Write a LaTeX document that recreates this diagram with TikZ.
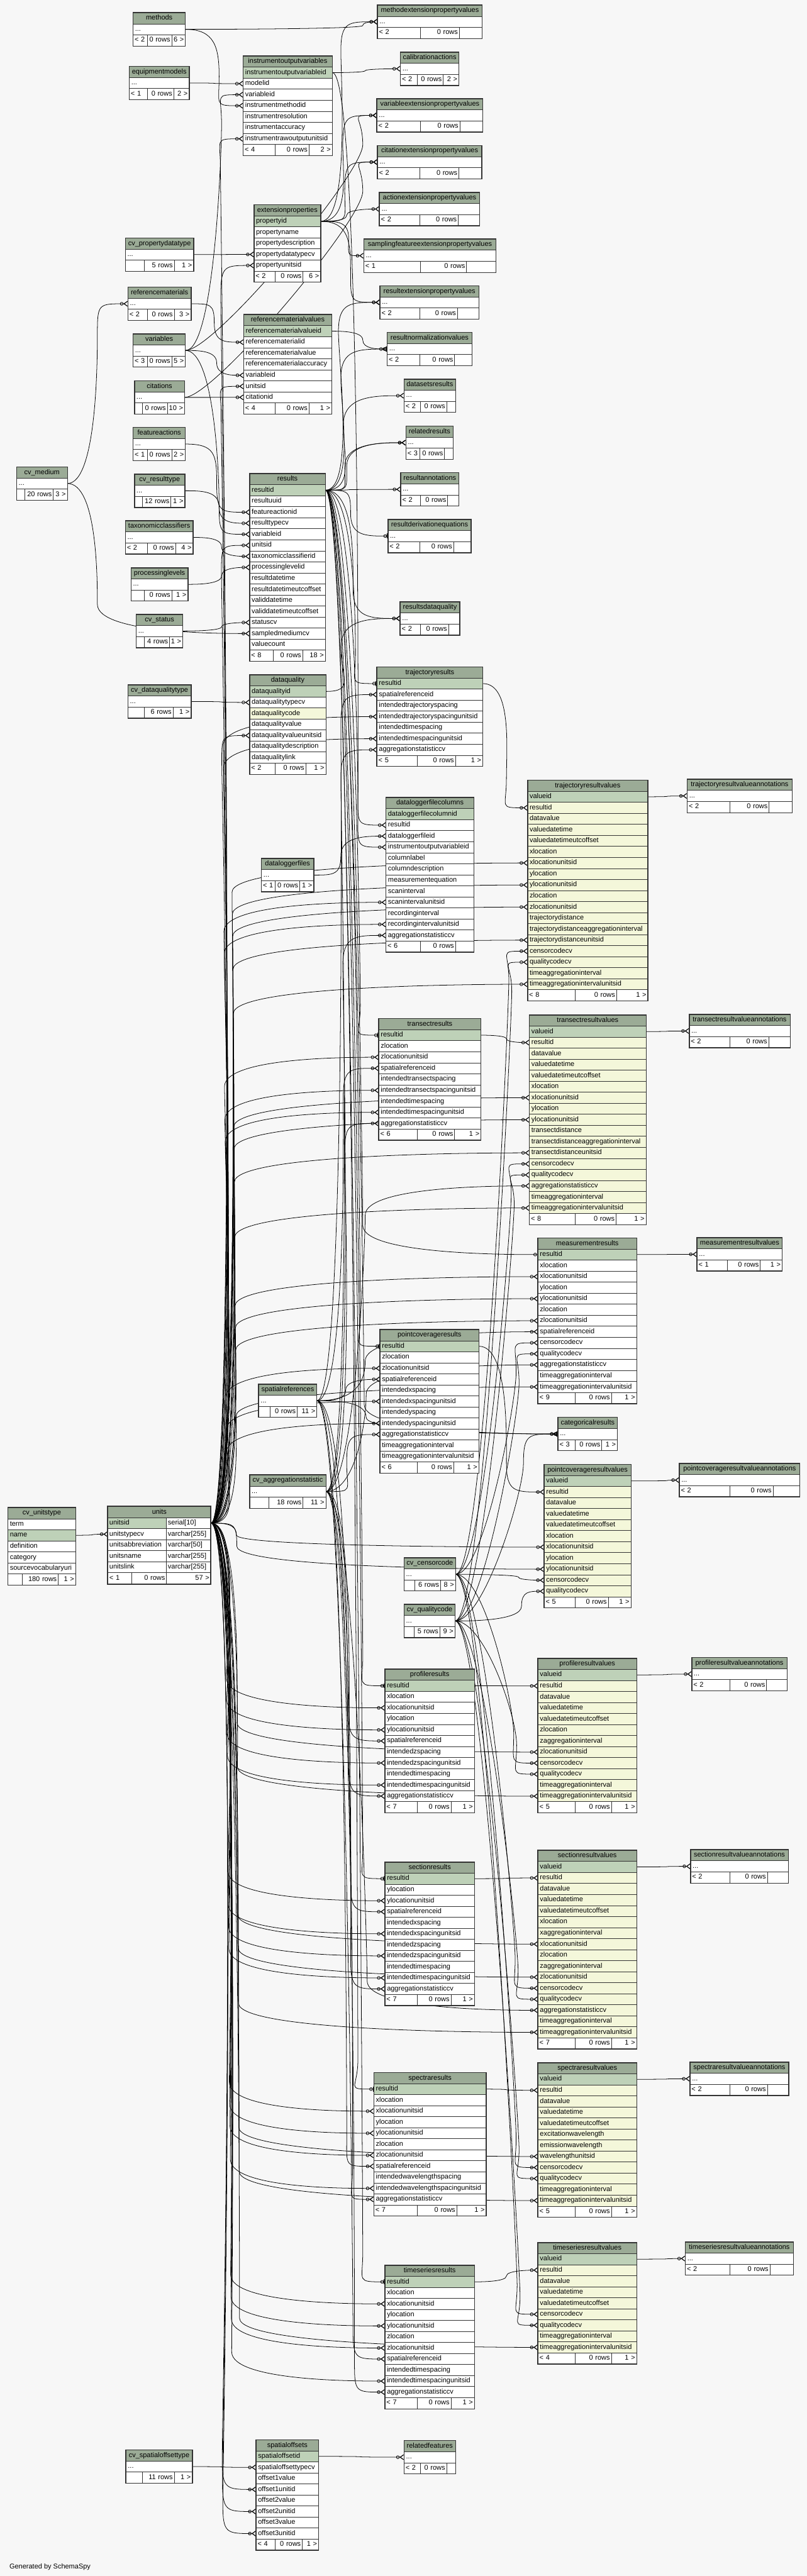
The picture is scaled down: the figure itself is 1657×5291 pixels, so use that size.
\documentclass[tikz,border=0pt]{standalone}
\usepackage{fontspec}
\setmainfont{Liberation Sans}
\usepackage{tikz}
\usetikzlibrary{arrows.meta, backgrounds, calc}
\definecolor{bgcol}{HTML}{F7F7F7}
\definecolor{headgreen}{HTML}{9BAB96}
\definecolor{rowp}{HTML}{BED1B8}
\definecolor{rowi}{HTML}{F4F7DA}
\definecolor{rown}{HTML}{FFFFFF}
\definecolor{tblline}{HTML}{333333}

\newcommand{\rowh}{22.65}

\tikzset{
    tblbase/.style={draw=tblline, line width=0.9pt, inner ysep=0pt, inner xsep=4pt, minimum height=22.65pt, text height=10.6pt, text depth=3.4pt},
    tblhead/.style={tblbase, fill=headgreen, align=center},
    tblcell/.style={tblbase, fill=white, align=left},
    fkline/.style={draw=black, line width=1pt},
    crow/.style={-{Circle[open, length=7pt, width=7pt, line width=1pt] Straight Barb[reversed, length=7pt, width=10pt, line width=1.5pt]}},
    one/.style={-{Circle[open, length=7pt, width=7pt, line width=1pt] Bar[width=10pt, line width=2pt]}}
}

% table with named column rows (kind/column)
\newcommand{\dbtable}[6]{%
    \pgfmathsetmacro{\tw}{#4-8}%
    \node[tblhead, text width=\tw pt, anchor=north west] (#1) at (#2,#3) {#5};
    \foreach [count=\i] \k/\c in {#6} {
        \node[tblcell, fill=row\k, text width=\tw pt, anchor=north west] (#1-\c) at (#2,{#3+\i*\rowh}) {\c};
        \global\let\lastrow\i
    }
    \xdef\curname{#1}\xdef\curx{#2}\xdef\curw{#4}%
    \pgfmathsetmacro{\cury}{#3+(\lastrow+1)*\rowh}%
}
% collapsed table
\newcommand{\dbsmall}[5]{%
    \pgfmathsetmacro{\tw}{#4-8}%
    \node[tblhead, text width=\tw pt, anchor=north west] (#1) at (#2,#3) {#5};
    \node[tblcell, text width=\tw pt, anchor=north west] (#1-dots) at (#2,{#3+\rowh}) {...};
    \xdef\curname{#1}\xdef\curx{#2}\xdef\curw{#4}%
    \pgfmathsetmacro{\cury}{#3+2*\rowh}%
}
% footer: dividers, then three texts
\newcommand{\dbfoot}[5]{%
    \pgfmathsetmacro{\wa}{#1-\curx-6}%
    \pgfmathsetmacro{\wb}{#2-#1-6}%
    \pgfmathsetmacro{\wc}{\curx+\curw-#2-6}%
    \node[tblcell, inner xsep=3pt, text width=\wa pt, anchor=north west] (\curname-f1) at (\curx,\cury) {#3};
    \node[tblcell, inner xsep=3pt, text width=\wb pt, align=right, anchor=north west] (\curname-f2) at (#1,\cury) {#4};
    \node[tblcell, inner xsep=3pt, text width=\wc pt, align=right, anchor=north west] (\curname-f3) at (#2,\cury) {#5};
    \draw[tblline, line width=1.5pt] (\curname.north west) rectangle (\curname-f3.south east);
}
% foreign key: parent row, child row, channel x
\newcommand{\fk}[4][crow]{%
    \draw[fkline, #1] let \p1=(#2.east), \p2=(#3.west),
        \n1={scalar(ifthenelse((\y2)<(\y1),1,-1))}, \n2={scalar(min(60,abs((\y2)-(\y1))/2))},
        \n5={scalar(#4)}, \n6={scalar((\y2)+(\n1)*(\n2))},
        \n{ya}={\n6+(\n1)*(\n2)}, \n{yb}={\n6-(\n1)*(\n2)},
        \n{xa}={scalar(\x1)+\n2}, \n{xb}={scalar(\x2)-\n2} in
        (\p1) .. controls (\n{xa}pt,\y1) and (\n5pt,\n{ya}pt) .. (\n5pt,\n6pt)
        .. controls (\n5pt,\n{yb}pt) and (\n{xb}pt,\y2) .. (\p2);
}

\begin{document}
\begin{tikzpicture}[x=1pt, y=-1pt, font=\fontsize{14.2}{17}\selectfont]

    \useasboundingbox (0,0) rectangle (1657,5291);

    % Left column
    \dbsmall{methods}{273.1}{25.8}{106.9}{methods}
    \dbfoot{301.7}{352}{< 2}{0 rows}{6 >}
    \dbsmall{equipmentmodels}{265.2}{136}{122.8}{equipmentmodels}
    \dbfoot{301.7}{356.2}{< 1}{0 rows}{2 >}
    \dbsmall{cv_propertydatatype}{257.2}{488.5}{139.8}{cv\_propertydatatype}
    \dbfoot{295.3}{357.3}{}{5 rows}{1 >}
    \dbsmall{referencematerials}{262.5}{589.5}{129.2}{referencematerials}
    \dbfoot{301.7}{357.3}{< 2}{0 rows}{3 >}
    \dbsmall{variables}{273.1}{685.4}{106.9}{variables}
    \dbfoot{301.7}{352}{< 3}{0 rows}{5 >}
    \dbsmall{citations}{275.8}{781.8}{102.6}{citations}
    \dbfoot{291.6}{343}{}{0 rows}{10 >}
    \dbsmall{featureactions}{273.1}{877.6}{106.9}{featureactions}
    \dbfoot{301.7}{352}{< 1}{0 rows}{2 >}
    \dbsmall{cv_medium}{33.9}{958.6}{103.7}{cv\_medium}
    \dbfoot{50.3}{109}{}{20 rows}{3 >}
    \dbsmall{cv_resulttype}{275.8}{973.6}{103.2}{cv\_resulttype}
    \dbfoot{291.6}{350.4}{}{12 rows}{1 >}
    \dbsmall{taxonomicclassifiers}{257.2}{1069.4}{138.7}{taxonomicclassifiers}
    \dbfoot{301.7}{359.9}{< 2}{0 rows}{4 >}
    \dbsmall{processinglevels}{268.9}{1165.8}{116.4}{processinglevels}
    \dbfoot{295.3}{352}{}{0 rows}{1 >}
    \dbsmall{cv_status}{279.5}{1261.7}{95.2}{cv\_status}
    \dbfoot{295.3}{347.7}{}{4 rows}{1 >}
    \dbsmall{cv_dataqualitytype}{262.5}{1406.4}{129.2}{cv\_dataqualitytype}
    \dbfoot{295.3}{354.6}{}{6 rows}{1 >}
    \dbtable{cv_unitstype}{15.9}{3096.3}{138.7}{cv\_unitstype}{n/term, p/name, n/definition, n/category, n/sourcevocabularyuri}
    \dbfoot{45.5}{119.1}{}{180 rows}{1 >}
    \dbsmall{cv_spatialoffsettype}{258.3}{5031.8}{136}{cv\_spatialoffsettype}
    \dbfoot{291.6}{357.3}{}{11 rows}{1 >}

    % units (focus table)
    \node[tblhead, inner xsep=3pt, text width=205.1pt, anchor=north west] (units) at (221.3,3094) {units};
    \foreach [count=\i] \k/\c/\t in {p/unitsid/serial[10], n/unitstypecv/varchar[255], n/unitsabbreviation/varchar[50], n/unitsname/varchar[255], n/unitslink/varchar[255]} {
        \node[tblcell, fill=row\k, inner xsep=3pt, text width=114.1pt, anchor=north west] (units-\c) at (221.3,{3094+\i*\rowh}) {\c};
        \node[tblcell, inner xsep=3pt, text width=85pt, anchor=north west] (units-\c-t) at (341.4,{3094+\i*\rowh}) {\t};
    }
    \def\curname{units}\def\curx{221.3}\def\curw{211.1}\pgfmathsetmacro{\cury}{3094+6*\rowh}
    \dbfoot{270.5}{341.4}{< 1}{0 rows}{57 >}
    \draw[tblline, line width=2.6pt] (units.north west) rectangle (units-f3.south east);

    % Second column
    \dbtable{instrumentoutputvariables}{499.1}{114.8}{182.6}{instrumentoutputvariables}{p/instrumentoutputvariableid, n/modelid, n/variableid, n/instrumentmethodid, n/instrumentresolution, n/instrumentaccuracy, n/instrumentrawoutputunitsid}
    \dbfoot{564.2}{634.1}{< 4}{0 rows}{2 >}
    \dbtable{extensionproperties}{521.4}{420.2}{136.5}{extensionproperties}{p/propertyid, n/propertyname, n/propertydescription, n/propertydatatypecv, n/propertyunitsid}
    \dbfoot{564.2}{621.9}{< 2}{0 rows}{6 >}
    \dbtable{referencematerialvalues}{500.2}{645.8}{180.5}{referencematerialvalues}{p/referencematerialvalueid, n/referencematerialid, n/referencematerialvalue, n/referencematerialaccuracy, n/variableid, n/unitsid, n/citationid}
    \dbfoot{564.2}{634.1}{< 4}{0 rows}{1 >}
    \dbtable{results}{512.4}{972.4}{155.1}{results}{p/resultid, n/resultuuid, n/featureactionid, n/resulttypecv, n/variableid, n/unitsid, n/taxonomicclassifierid, n/processinglevelid, n/resultdatetime, n/resultdatetimeutcoffset, n/validdatetime, n/validdatetimeutcoffset, n/statuscv, n/sampledmediumcv, n/valuecount}
    \dbfoot{560}{620.9}{< 8}{0 rows}{18 >}
    \dbtable{dataquality}{512.4}{1385.7}{156.1}{dataquality}{p/dataqualityid, n/dataqualitytypecv, i/dataqualitycode, n/dataqualityvalue, n/dataqualityvalueunitsid, n/dataqualitydescription, n/dataqualitylink}
    \dbfoot{564.2}{627.2}{< 2}{0 rows}{1 >}
    \dbsmall{dataloggerfiles}{536.7}{1762.9}{106.9}{dataloggerfiles}
    \dbfoot{564.2}{615}{< 1}{0 rows}{1 >}
    \dbsmall{spatialreferences}{530.9}{2842.6}{119.1}{spatialreferences}
    \dbfoot{554.7}{609.8}{}{0 rows}{11 >}
    \dbsmall{cv_aggregationstatistic}{512.4}{3029.2}{156.1}{cv\_aggregationstatistic}
    \dbfoot{551}{621.9}{}{18 rows}{11 >}
    \dbtable{spatialoffsets}{525.6}{5010.8}{128.1}{spatialoffsets}{p/spatialoffsetid, n/spatialoffsettypecv, n/offset1value, n/offset1unitid, n/offset2value, n/offset2unitid, n/offset3value, n/offset3unitid}
    \dbfoot{564.2}{620.3}{< 4}{0 rows}{1 >}

    % Third column
    \dbsmall{methodextensionpropertyvalues}{775}{10.3}{214.7}{methodextensionpropertyvalues}
    \dbfoot{862.7}{942.8}{< 2}{0 rows}{}
    \dbsmall{calibrationactions}{822.1}{106.8}{119.6}{calibrationactions}
    \dbfoot{855.8}{909.7}{< 2}{0 rows}{2 >}
    \dbsmall{variableextensionpropertyvalues}{773.8}{202.6}{217}{variableextensionpropertyvalues}
    \dbfoot{862.7}{943.8}{< 2}{0 rows}{}
    \dbsmall{citationextensionpropertyvalues}{775}{298.5}{213.7}{citationextensionpropertyvalues}
    \dbfoot{861.6}{941.7}{< 2}{0 rows}{}
    \dbsmall{actionextensionpropertyvalues}{779}{394.9}{205.4}{actionextensionpropertyvalues}
    \dbfoot{861.6}{940.6}{< 2}{0 rows}{}
    \dbsmall{samplingfeatureextensionpropertyvalues}{746.8}{490.8}{271.2}{samplingfeatureextensionpropertyvalues}
    \dbfoot{862.7}{957.7}{< 1}{0 rows}{}
    \dbsmall{resultextensionpropertyvalues}{780}{586.6}{202.8}{resultextensionpropertyvalues}
    \dbfoot{861.6}{939}{< 2}{0 rows}{}
    \dbsmall{resultnormalizationvalues}{795}{682.5}{173.4}{resultnormalizationvalues}
    \dbfoot{861.6}{933.2}{< 2}{0 rows}{}
    \dbsmall{datasetsresults}{829.6}{778.3}{105.2}{datasetsresults}
    \dbfoot{862.7}{916.6}{< 2}{0 rows}{}
    \dbsmall{relatedresults}{833.3}{874.8}{96.7}{relatedresults}
    \dbfoot{861.6}{912.3}{< 3}{0 rows}{}
    \dbsmall{resultannotations}{822.7}{970.7}{119}{resultannotations}
    \dbfoot{862.7}{918.8}{< 2}{0 rows}{}
    \dbsmall{resultderivationequations}{796.6}{1066.6}{170.2}{resultderivationequations}
    \dbfoot{861.6}{931}{< 2}{0 rows}{}
    \dbsmall{resultsdataquality}{821.6}{1235.9}{121.7}{resultsdataquality}
    \dbfoot{862.7}{920.4}{< 2}{0 rows}{}
    \dbtable{trajectoryresults}{773.8}{1369.6}{217}{trajectoryresults}{p/resultid, n/spatialreferenceid, n/intendedtrajectoryspacing, n/intendedtrajectoryspacingunitsid, n/intendedtimespacing, n/intendedtimespacingunitsid, n/aggregationstatisticcv}
    \dbfoot{856.3}{934.8}{< 5}{0 rows}{1 >}
    \dbtable{dataloggerfilecolumns}{792.4}{1637.7}{180.3}{dataloggerfilecolumns}{p/dataloggerfilecolumnid, n/resultid, n/dataloggerfileid, n/instrumentoutputvariableid, n/columnlabel, n/columndescription, n/measurementequation, n/scaninterval, n/scanintervalunitsid, n/recordinginterval, n/recordingintervalunitsid, n/aggregationstatisticcv}
    \dbfoot{862.7}{934.8}{< 6}{0 rows}{}
    \dbtable{transectresults}{777.6}{2091.8}{209.5}{transectresults}{p/resultid, n/zlocation, n/zlocationunitsid, n/spatialreferenceid, n/intendedtransectspacing, n/intendedtransectspacingunitsid, n/intendedtimespacing, n/intendedtimespacingunitsid, n/aggregationstatisticcv}
    \dbfoot{856.3}{933.2}{< 6}{0 rows}{1 >}
    \dbtable{pointcoverageresults}{780.2}{2730.7}{202.6}{pointcoverageresults}{p/resultid, n/zlocation, n/zlocationunitsid, n/spatialreferenceid, n/intendedxspacing, n/intendedxspacingunitsid, n/intendedyspacing, n/intendedyspacingunitsid, n/aggregationstatisticcv, n/timeaggregationinterval, n/timeaggregationintervalunitsid}
    \dbfoot{856.3}{931}{< 6}{0 rows}{1 >}
    \dbsmall{cv_censorcode}{829.6}{3199.1}{105.2}{cv\_censorcode}
    \dbfoot{851}{904.3}{}{6 rows}{8 >}
    \dbsmall{cv_qualitycode}{829.6}{3294.9}{104.1}{cv\_qualitycode}
    \dbfoot{849.4}{902.7}{}{5 rows}{9 >}
    \dbtable{profileresults}{790.3}{3428.1}{183.4}{profileresults}{p/resultid, n/xlocation, n/xlocationunitsid, n/ylocation, n/ylocationunitsid, n/spatialreferenceid, n/intendedzspacing, n/intendedzspacingunitsid, n/intendedtimespacing, n/intendedtimespacingunitsid, n/aggregationstatisticcv}
    \dbfoot{856.3}{925.7}{< 7}{0 rows}{1 >}
    \dbtable{sectionresults}{790.3}{3824.2}{183.4}{sectionresults}{p/resultid, n/ylocation, n/ylocationunitsid, n/spatialreferenceid, n/intendedxspacing, n/intendedxspacingunitsid, n/intendedzspacing, n/intendedzspacingunitsid, n/intendedtimespacing, n/intendedtimespacingunitsid, n/aggregationstatisticcv}
    \dbfoot{856.3}{925.7}{< 7}{0 rows}{1 >}
    \dbtable{spectraresults}{767.5}{4256.5}{230.3}{spectraresults}{p/resultid, n/xlocation, n/xlocationunitsid, n/ylocation, n/ylocationunitsid, n/zlocation, n/zlocationunitsid, n/spatialreferenceid, n/intendedwavelengthspacing, n/intendedwavelengthspacingunitsid, n/aggregationstatisticcv}
    \dbfoot{856.3}{937.4}{< 7}{0 rows}{1 >}
    \dbtable{timeseriesresults}{790.3}{4652.3}{183.4}{timeseriesresults}{p/resultid, n/xlocation, n/xlocationunitsid, n/ylocation, n/ylocationunitsid, n/zlocation, n/zlocationunitsid, n/spatialreferenceid, n/intendedtimespacing, n/intendedtimespacingunitsid, n/aggregationstatisticcv}
    \dbfoot{856.3}{925.7}{< 7}{0 rows}{1 >}
    \dbsmall{relatedfeatures}{829.6}{5012.5}{105.2}{relatedfeatures}
    \dbfoot{862.7}{916.6}{< 2}{0 rows}{}

    % Value tables
    \dbtable{trajectoryresultvalues}{1083.2}{1602.1}{246.6}{trajectoryresultvalues}{p/valueid, i/resultid, i/datavalue, i/valuedatetime, i/valuedatetimeutcoffset, i/xlocation, i/xlocationunitsid, i/ylocation, i/ylocationunitsid, i/zlocation, i/zlocationunitsid, i/trajectorydistance, i/trajectorydistanceaggregationinterval, i/trajectorydistanceunitsid, i/censorcodecv, i/qualitycodecv, i/timeaggregationinterval, i/timeaggregationintervalunitsid}
    \dbfoot{1180.3}{1265.7}{< 8}{0 rows}{1 >}
    \dbtable{transectresultvalues}{1086.9}{2084.3}{239.1}{transectresultvalues}{p/valueid, i/resultid, i/datavalue, i/valuedatetime, i/valuedatetimeutcoffset, i/xlocation, i/xlocationunitsid, i/ylocation, i/ylocationunitsid, i/transectdistance, i/transectdistanceaggregationinterval, i/transectdistanceunitsid, i/censorcodecv, i/qualitycodecv, i/aggregationstatisticcv, i/timeaggregationinterval, i/timeaggregationintervalunitsid}
    \dbfoot{1180.3}{1264.7}{< 8}{0 rows}{1 >}
    \dbtable{measurementresults}{1104.5}{2542.4}{202.3}{measurementresults}{p/resultid, n/xlocation, n/xlocationunitsid, n/ylocation, n/ylocationunitsid, n/zlocation, n/zlocationunitsid, n/spatialreferenceid, n/censorcodecv, n/qualitycodecv, n/aggregationstatisticcv, n/timeaggregationinterval, n/timeaggregationintervalunitsid}
    \dbfoot{1180.3}{1255}{< 9}{0 rows}{1 >}
    \dbsmall{categoricalresults}{1145.6}{2910.9}{121.7}{categoricalresults}
    \dbfoot{1180.3}{1235.3}{< 3}{0 rows}{1 >}
    \dbtable{pointcoverageresultvalues}{1117.3}{3007.4}{177.8}{pointcoverageresultvalues}{p/valueid, i/resultid, i/datavalue, i/valuedatetime, i/valuedatetimeutcoffset, i/xlocation, i/xlocationunitsid, i/ylocation, i/ylocationunitsid, i/censorcodecv, i/qualitycodecv}
    \dbfoot{1180.3}{1248.6}{< 5}{0 rows}{1 >}
    \dbtable{profileresultvalues}{1104.5}{3405.7}{202.3}{profileresultvalues}{p/valueid, i/resultid, i/datavalue, i/valuedatetime, i/valuedatetimeutcoffset, i/zlocation, i/zaggregationinterval, i/zlocationunitsid, i/censorcodecv, i/qualitycodecv, i/timeaggregationinterval, i/timeaggregationintervalunitsid}
    \dbfoot{1180.3}{1255}{< 5}{0 rows}{1 >}
    \dbtable{sectionresultvalues}{1104.5}{3800.1}{202.3}{sectionresultvalues}{p/valueid, i/resultid, i/datavalue, i/valuedatetime, i/valuedatetimeutcoffset, i/xlocation, i/xaggregationinterval, i/xlocationunitsid, i/zlocation, i/zaggregationinterval, i/zlocationunitsid, i/censorcodecv, i/qualitycodecv, i/aggregationstatisticcv, i/timeaggregationinterval, i/timeaggregationintervalunitsid}
    \dbfoot{1180.3}{1255}{< 7}{0 rows}{1 >}
    \dbtable{spectraresultvalues}{1104.5}{4236.3}{202.3}{spectraresultvalues}{p/valueid, i/resultid, i/datavalue, i/valuedatetime, i/valuedatetimeutcoffset, i/excitationwavelength, i/emissionwavelength, i/wavelengthunitsid, i/censorcodecv, i/qualitycodecv, i/timeaggregationinterval, i/timeaggregationintervalunitsid}
    \dbfoot{1180.3}{1255}{< 5}{0 rows}{1 >}
    \dbtable{timeseriesresultvalues}{1104.5}{4605.7}{202.3}{timeseriesresultvalues}{p/valueid, i/resultid, i/datavalue, i/valuedatetime, i/valuedatetimeutcoffset, i/censorcodecv, i/qualitycodecv, i/timeaggregationinterval, i/timeaggregationintervalunitsid}
    \dbfoot{1180.3}{1255}{< 4}{0 rows}{1 >}

    % Annotation tables
    \dbsmall{trajectoryresultvalueannotations}{1411}{1600.4}{215}{trajectoryresultvalueannotations}
    \dbfoot{1499}{1579}{< 2}{0 rows}{}
    \dbsmall{transectresultvalueannotations}{1415.2}{2083.2}{206.6}{transectresultvalueannotations}
    \dbfoot{1499}{1578}{< 2}{0 rows}{}
    \dbsmall{measurementresultvalues}{1431.2}{2541.8}{174.6}{measurementresultvalues}
    \dbfoot{1492.6}{1560.9}{< 1}{0 rows}{1 >}
    \dbsmall{pointcoverageresultvalueannotations}{1394.9}{3005.6}{247.1}{pointcoverageresultvalueannotations}
    \dbfoot{1499}{1587}{< 2}{0 rows}{}
    \dbsmall{profileresultvalueannotations}{1420.5}{3404}{194.9}{profileresultvalueannotations}
    \dbfoot{1497.9}{1573.7}{< 2}{0 rows}{}
    \dbsmall{sectionresultvalueannotations}{1417.9}{3798.9}{200.1}{sectionresultvalueannotations}
    \dbfoot{1497.9}{1575.3}{< 2}{0 rows}{}
    \dbsmall{spectraresultvalueannotations}{1416.8}{4235.2}{202.3}{spectraresultvalueannotations}
    \dbfoot{1497.9}{1575.3}{< 2}{0 rows}{}
    \dbsmall{timeseriesresultvalueannotations}{1407.2}{4604.5}{221.5}{timeseriesresultvalueannotations}
    \dbfoot{1497.9}{1580.7}{< 2}{0 rows}{}

    \node[anchor=west] (credit) at (15.9,5272) {Generated by SchemaSpy};

    \begin{scope}[on background layer]
    \fill[bgcol] (0,0) rectangle (1657,5291);

    % Lookup tables on the left
    \fk{methods-dots}{methodextensionpropertyvalues-dots}{745}
    \fk{methods-dots}{instrumentoutputvariables-instrumentmethodid}{450}
    \fk{equipmentmodels-dots}{instrumentoutputvariables-modelid}{440}
    \fk{variables-dots}{instrumentoutputvariables-variableid}{455}
    \fk{variables-dots}{variableextensionpropertyvalues-dots}{745}
    \fk{variables-dots}{referencematerialvalues-variableid}{445}
    \fk{variables-dots}{results-variableid}{450}
    \fk{citations-dots}{citationextensionpropertyvalues-dots}{745}
    \fk{citations-dots}{referencematerialvalues-citationid}{440}
    \fk{referencematerials-dots}{referencematerialvalues-referencematerialid}{440}
    \fk{cv_medium-dots}{referencematerials-dots}{200}
    \fk{cv_medium-dots}{results-sampledmediumcv}{200}
    \fk{cv_propertydatatype-dots}{extensionproperties-propertydatatypecv}{460}
    \fk{featureactions-dots}{results-featureactionid}{445}
    \fk{cv_resulttype-dots}{results-resulttypecv}{450}
    \fk{taxonomicclassifiers-dots}{results-taxonomicclassifierid}{455}
    \fk{processinglevels-dots}{results-processinglevelid}{455}
    \fk{cv_status-dots}{results-statuscv}{455}
    \fk{cv_dataqualitytype-dots}{dataquality-dataqualitytypecv}{455}
    \fk{cv_unitstype-name}{units-unitstypecv}{190}
    \fk{cv_spatialoffsettype-dots}{spatialoffsets-spatialoffsettypecv}{460}

    % Second column parents
    \fk{instrumentoutputvariables-instrumentoutputvariableid}{calibrationactions-dots}{750}
    \fk{instrumentoutputvariables-instrumentoutputvariableid}{dataloggerfilecolumns-instrumentoutputvariableid}{735}
    \foreach \t/\cx in {methodextensionpropertyvalues/700, variableextensionpropertyvalues/704, citationextensionpropertyvalues/708, actionextensionpropertyvalues/712, samplingfeatureextensionpropertyvalues/716, resultextensionpropertyvalues/720}
        \fk{extensionproperties-propertyid}{\t-dots}{\cx};
    \fk{referencematerialvalues-referencematerialvalueid}{resultnormalizationvalues-dots}{745}
    \fk{dataquality-dataqualityid}{resultsdataquality-dots}{700}
    \fk{dataloggerfiles-dots}{dataloggerfilecolumns-dataloggerfileid}{700}
    \fk{spatialoffsets-spatialoffsetid}{relatedfeatures-dots}{740}

    % results
    \fk{results-resultid}{resultextensionpropertyvalues-dots}{695}
    \fk[one]{results-resultid}{resultnormalizationvalues-dots}{700}
    \fk{results-resultid}{datasetsresults-dots}{705}
    \fk{results-resultid}{relatedresults-dots}{708}
    \fk{results-resultid}{relatedresults-dots}{712}
    \fk{results-resultid}{resultannotations-dots}{715}
    \fk[one]{results-resultid}{resultderivationequations-dots}{720}
    \fk{results-resultid}{resultsdataquality-dots}{725}
    \fk[one]{results-resultid}{trajectoryresults-resultid}{730}
    \fk{results-resultid}{dataloggerfilecolumns-resultid}{735}
    \fk[one]{results-resultid}{transectresults-resultid}{740}
    \fk[one]{results-resultid}{measurementresults-resultid}{745}
    \fk[one]{results-resultid}{categoricalresults-dots}{748}
    \fk[one]{results-resultid}{pointcoverageresults-resultid}{740}
    \fk[one]{results-resultid}{profileresults-resultid}{745}
    \fk[one]{results-resultid}{sectionresults-resultid}{745}
    \fk[one]{results-resultid}{spectraresults-resultid}{735}
    \fk[one]{results-resultid}{timeseriesresults-resultid}{745}

    % Result types to values and annotations
    \foreach \tp in {trajectory, transect, pointcoverage, profile, section, spectra, timeseries} {
        \fk{\tp results-resultid}{\tp resultvalues-resultid}{1040}
        \fk{\tp resultvalues-valueid}{\tp resultvalueannotations-dots}{1370}
    }
    \fk{measurementresults-resultid}{measurementresultvalues-dots}{1370}

    % spatialreferences
    \foreach \t/\cx in {trajectoryresults/700, transectresults/705, measurementresults/750, pointcoverageresults/710, profileresults/715, sectionresults/720, spectraresults/712, timeseriesresults/725}
        \fk{spatialreferences-dots}{\t-spatialreferenceid}{\cx};
    \fk{spatialreferences-dots}{categoricalresults-dots}{752}

    % cv_aggregationstatistic
    \foreach \t/\cx in {trajectoryresults/700, dataloggerfilecolumns/704, transectresults/708, transectresultvalues/750, measurementresults/752, pointcoverageresults/712, profileresults/716, sectionresults/720, sectionresultvalues/754, spectraresults/724, timeseriesresults/728}
        \fk{cv_aggregationstatistic-dots}{\t-aggregationstatisticcv}{\cx};

    % cv_censorcode, cv_qualitycode
    \foreach \t/\cx in {trajectoryresultvalues/1045, transectresultvalues/1050, measurementresults/1060, pointcoverageresultvalues/1065, profileresultvalues/1055, sectionresultvalues/1058, spectraresultvalues/1060, timeseriesresultvalues/1062} {
        \fk{cv_censorcode-dots}{\t-censorcodecv}{\cx}
        \fk{cv_qualitycode-dots}{\t-qualitycodecv}{\cx+6}
    }
    \fk{cv_qualitycode-dots}{categoricalresults-dots}{1075}

    % units
    \foreach [count=\i] \t in {instrumentoutputvariables-instrumentrawoutputunitsid, extensionproperties-propertyunitsid, referencematerialvalues-unitsid, results-unitsid, dataquality-dataqualityvalueunitsid, spatialoffsets-offset1unitid, spatialoffsets-offset2unitid, spatialoffsets-offset3unitid, trajectoryresults-intendedtrajectoryspacingunitsid, trajectoryresults-intendedtimespacingunitsid, dataloggerfilecolumns-scanintervalunitsid, dataloggerfilecolumns-recordingintervalunitsid, transectresults-zlocationunitsid, transectresults-intendedtransectspacingunitsid, transectresults-intendedtimespacingunitsid, pointcoverageresults-zlocationunitsid, pointcoverageresults-intendedxspacingunitsid, pointcoverageresults-intendedyspacingunitsid, profileresults-xlocationunitsid, profileresults-ylocationunitsid, profileresults-intendedzspacingunitsid, profileresults-intendedtimespacingunitsid, sectionresults-ylocationunitsid, sectionresults-intendedxspacingunitsid, sectionresults-intendedzspacingunitsid, sectionresults-intendedtimespacingunitsid, spectraresults-xlocationunitsid, spectraresults-ylocationunitsid, spectraresults-zlocationunitsid, spectraresults-intendedwavelengthspacingunitsid, timeseriesresults-xlocationunitsid, timeseriesresults-ylocationunitsid, timeseriesresults-zlocationunitsid, timeseriesresults-intendedtimespacingunitsid, trajectoryresultvalues-xlocationunitsid, trajectoryresultvalues-ylocationunitsid, trajectoryresultvalues-zlocationunitsid, trajectoryresultvalues-trajectorydistanceunitsid, trajectoryresultvalues-timeaggregationintervalunitsid, transectresultvalues-xlocationunitsid, transectresultvalues-ylocationunitsid, transectresultvalues-transectdistanceunitsid, transectresultvalues-timeaggregationintervalunitsid, measurementresults-xlocationunitsid, measurementresults-ylocationunitsid, measurementresults-zlocationunitsid, measurementresults-timeaggregationintervalunitsid, pointcoverageresultvalues-xlocationunitsid, pointcoverageresultvalues-ylocationunitsid, profileresultvalues-zlocationunitsid, profileresultvalues-timeaggregationintervalunitsid, sectionresultvalues-xlocationunitsid, sectionresultvalues-zlocationunitsid, sectionresultvalues-timeaggregationintervalunitsid, spectraresultvalues-wavelengthunitsid, spectraresultvalues-timeaggregationintervalunitsid, timeseriesresultvalues-timeaggregationintervalunitsid}
        \fk{units-unitsid-t}{\t}{452+0.7*\i};
    \end{scope}

\end{tikzpicture}
\end{document}
